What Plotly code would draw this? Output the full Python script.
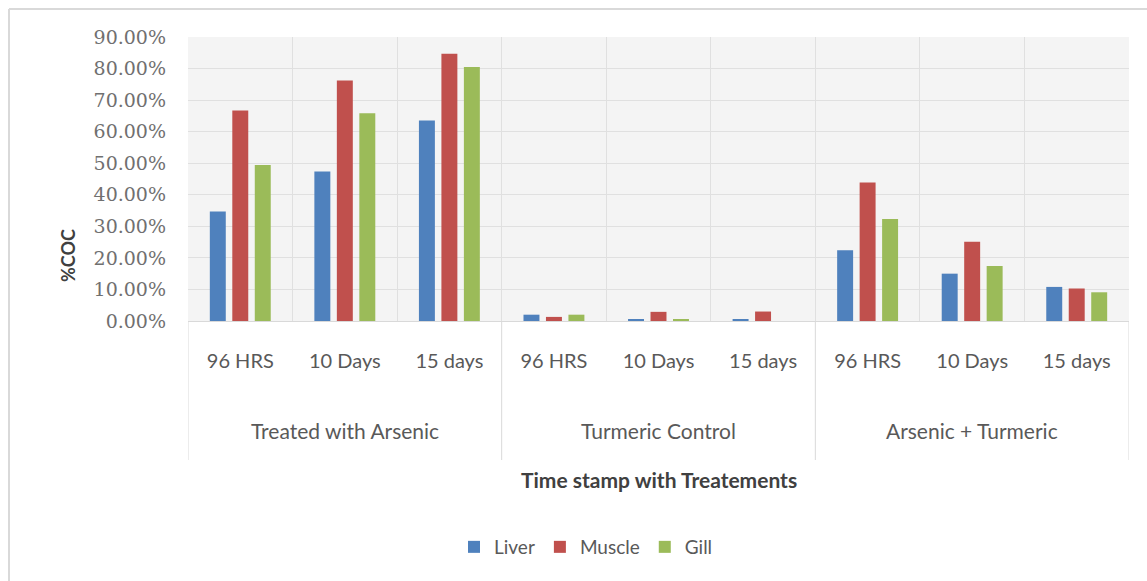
import plotly.graph_objects as go

# Treatment groups and time points (inner categories repeat per group)
groups = ["Treated with Arsenic", "Turmeric Control", "Arsenic + Turmeric"]
time_points = ["96 HRS", "10 Days", "15 days"]
categories = [t for g in groups for t in time_points]

# %COC per tissue (fractions), in category order
liver = [0.347, 0.474, 0.635, 0.020, 0.005, 0.004, 0.224, 0.150, 0.108]
muscle = [0.667, 0.762, 0.847, 0.013, 0.029, 0.030, 0.439, 0.251, 0.103]
gill = [0.494, 0.658, 0.805, 0.020, 0.004, 0.000, 0.323, 0.174, 0.091]

series = [("Liver", liver, "#4F81BD"), ("Muscle", muscle, "#C0504D"), ("Gill", gill, "#9BBB59")]

W, H = 1147, 581
ML, MR, MT, MB = 188, 18, 37, 260
PW, PH = W - ML - MR, H - MT - MB


def px_x(px):
    return (px - ML) / PW


def px_y(py):
    return (H - MB - py) / PH


xpos = list(range(len(categories)))

fig = go.Figure()
for name, vals, color in series:
    fig.add_trace(go.Bar(x=xpos, y=vals, name=name, marker=dict(color=color, line=dict(width=0))))

label_font = "Lato, Calibri, Carlito, sans-serif"

fig.update_layout(
    width=W, height=H,
    margin=dict(l=ML, r=MR, t=MT, b=MB),
    paper_bgcolor="white",
    plot_bgcolor="#f4f4f4",
    barmode="group",
    bargap=0.355,
    bargroupgap=0.29,
    showlegend=True,
    legend=dict(
        orientation="h", x=px_x(586), xanchor="center", y=px_y(547), yanchor="middle",
        font=dict(family=label_font, size=19, color="#595959"),
        itemwidth=30, bgcolor="rgba(0,0,0,0)",
    ),
    xaxis=dict(
        range=[-0.5, len(categories) - 0.5],
        tickmode="array", tickvals=xpos, ticktext=categories,
        showgrid=False, zeroline=False,
        showline=True, linecolor="#d9d9d9", linewidth=1,
        ticks="", ticklabelstandoff=22,
        tickfont=dict(family=label_font, size=20, color="#595959"),
        minor=dict(tickmode="linear", tick0=-0.5, dtick=1, showgrid=True,
                   gridcolor="#e0e0e0", gridwidth=1, ticks=""),
        fixedrange=True,
    ),
    yaxis=dict(
        range=[0, 0.9], tickmode="linear", tick0=0, dtick=0.1, tickformat=".2%",
        showgrid=True, gridcolor="#e0e0e0", gridwidth=1,
        zeroline=False, showline=False, ticks="", ticklabelstandoff=21,
        tickfont=dict(family="DejaVu Serif, serif", size=19, color="#707070"),
        fixedrange=True,
    ),
)

# Group labels under the time-point labels
for i, g in enumerate(groups):
    fig.add_annotation(x=i * len(time_points) + (len(time_points) - 1) / 2, xref="x",
                       y=px_y(430), yref="paper", text=g, showarrow=False,
                       font=dict(family=label_font, size=21, color="#595959"),
                       xanchor="center", yanchor="middle")

# Dividers between treatment groups, running down through the label rows
for k in range(len(groups) + 1):
    fig.add_shape(type="line", xref="x", yref="paper",
                  x0=k * len(time_points) - 0.5, x1=k * len(time_points) - 0.5,
                  y0=0, y1=px_y(460), line=dict(color="#d9d9d9", width=1))

# Axis titles
fig.add_annotation(x=0.5, xref="paper", y=px_y(479), yref="paper",
                   text="Time stamp with Treatements", showarrow=False,
                   font=dict(family=label_font, size=21, color="#404040", weight="bold"),
                   xanchor="center", yanchor="middle")
fig.add_annotation(x=px_x(68), xref="paper", y=px_y(255), yref="paper",
                   text="%COC", showarrow=False, textangle=-90,
                   font=dict(family=label_font, size=18, color="#404040", weight="bold"),
                   xanchor="center", yanchor="middle")

# Chart-area frame (left and top edges)
fig.add_shape(type="line", xref="paper", yref="paper", x0=px_x(9), x1=px_x(W + 5),
              y0=px_y(9), y1=px_y(9), line=dict(color="#d9d9d9", width=2))
fig.add_shape(type="line", xref="paper", yref="paper", x0=px_x(9), x1=px_x(9),
              y0=px_y(9), y1=px_y(H + 5), line=dict(color="#d9d9d9", width=2))

fig.write_html("out.html")
